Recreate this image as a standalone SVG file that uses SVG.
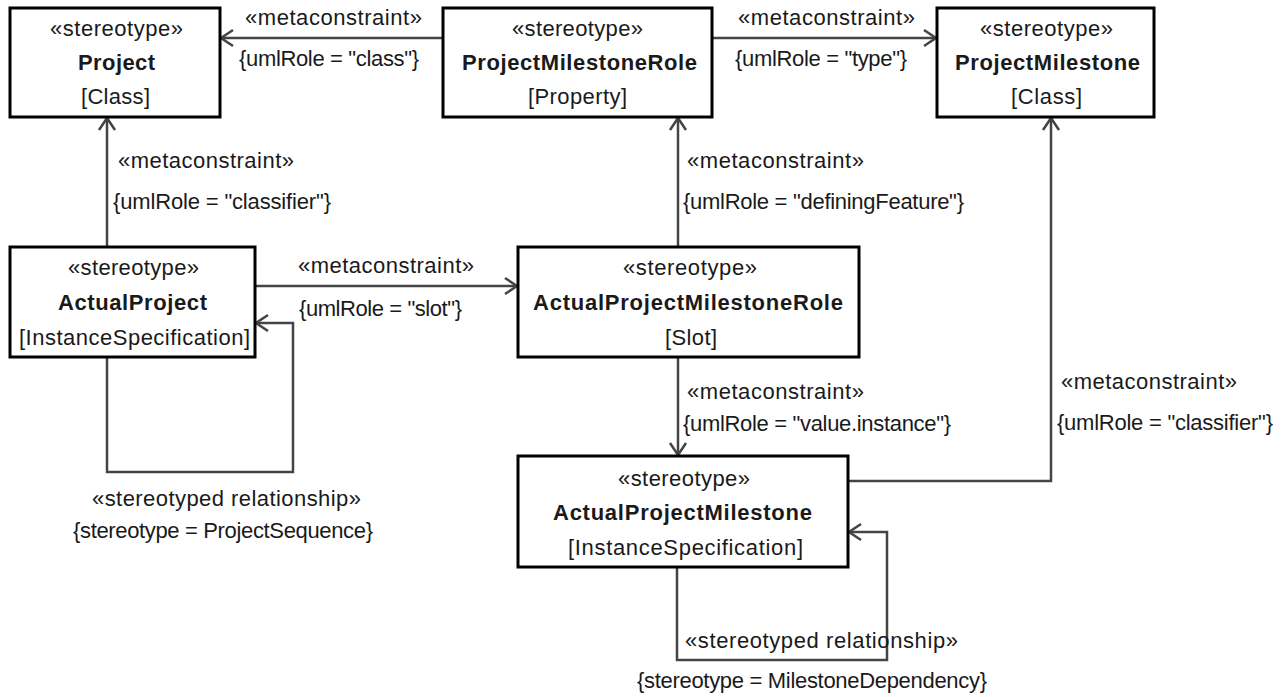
<svg xmlns="http://www.w3.org/2000/svg" width="1286" height="697" viewBox="0 0 1286 697">
<style>
text{font-family:"Liberation Sans",Arial,sans-serif;font-size:22px;fill:#1a1a1a}
.c{text-anchor:middle}
.b{font-weight:bold}
.box{fill:#fff;stroke:#000;stroke-width:3}
.con{fill:none;stroke:#444;stroke-width:2.5}
</style>
<defs>
<marker id="arr" markerUnits="userSpaceOnUse" markerWidth="20" markerHeight="20" refX="14" refY="10" orient="auto">
<path d="M2,2 L14,10 L2,18" fill="none" stroke="#444" stroke-width="2.5"/>
</marker>
</defs>
<g id="connectors">
<path class="con" d="M443,38 L221,38" marker-end="url(#arr)"/>
<path class="con" d="M712,38 L936,38" marker-end="url(#arr)"/>
<path class="con" d="M107,247 L107,118" marker-end="url(#arr)"/>
<path class="con" d="M678,247 L678,118" marker-end="url(#arr)"/>
<path class="con" d="M255,286 L517,286" marker-end="url(#arr)"/>
<path class="con" d="M107,357 L107,472 L293,472 L293,323 L256,323" marker-end="url(#arr)"/>
<path class="con" d="M678,357 L678,455" marker-end="url(#arr)"/>
<path class="con" d="M848,481 L1051,481 L1051,118" marker-end="url(#arr)"/>
<path class="con" d="M677,567 L677,660 L887,660 L887,532 L849,532" marker-end="url(#arr)"/>
<text x="245" y="25" textLength="177" lengthAdjust="spacing">«metaconstraint»</text>
<text x="239" y="66" textLength="180" lengthAdjust="spacing">{umlRole = "class"}</text>
<text x="738" y="25" textLength="177" lengthAdjust="spacing">«metaconstraint»</text>
<text x="735" y="66" textLength="172" lengthAdjust="spacing">{umlRole = "type"}</text>
<text x="118" y="168" textLength="176" lengthAdjust="spacing">«metaconstraint»</text>
<text x="113" y="209" textLength="218" lengthAdjust="spacing">{umlRole = "classifier"}</text>
<text x="687" y="168" textLength="177" lengthAdjust="spacing">«metaconstraint»</text>
<text x="683" y="209" textLength="281" lengthAdjust="spacing">{umlRole = "definingFeature"}</text>
<text x="298" y="273" textLength="176" lengthAdjust="spacing">«metaconstraint»</text>
<text x="299" y="316" textLength="163" lengthAdjust="spacing">{umlRole = "slot"}</text>
<text x="687" y="399" textLength="177" lengthAdjust="spacing">«metaconstraint»</text>
<text x="683" y="431" textLength="268" lengthAdjust="spacing">{umlRole = "value.instance"}</text>
<text x="1061" y="389" textLength="176" lengthAdjust="spacing">«metaconstraint»</text>
<text x="1057" y="430" textLength="216" lengthAdjust="spacing">{umlRole = "classifier"}</text>
<text x="92" y="506" textLength="269" lengthAdjust="spacing">«stereotyped relationship»</text>
<text x="73" y="538" textLength="300" lengthAdjust="spacing">{stereotype = ProjectSequence}</text>
<text x="685" y="648" textLength="273" lengthAdjust="spacing">«stereotyped relationship»</text>
<text x="637" y="688" textLength="350" lengthAdjust="spacing">{stereotype = MilestoneDependency}</text>
</g>
<g id="Project">
<rect class="box" x="10" y="8" width="210" height="109"/>
<text class="c" x="116.5" y="36" textLength="133" lengthAdjust="spacing">«stereotype»</text>
<text class="c b" x="116.5" y="70" textLength="77" lengthAdjust="spacing">Project</text>
<text class="c" x="115.5" y="104" textLength="69" lengthAdjust="spacing">[Class]</text>
</g>
<g id="ProjectMilestoneRole">
<rect class="box" x="443" y="8" width="269" height="109"/>
<text class="c" x="577.5" y="36" textLength="131" lengthAdjust="spacing">«stereotype»</text>
<text class="c b" x="579.5" y="70" textLength="235" lengthAdjust="spacing">ProjectMilestoneRole</text>
<text class="c" x="577.5" y="104" textLength="99" lengthAdjust="spacing">[Property]</text>
</g>
<g id="ProjectMilestone">
<rect class="box" x="937" y="8" width="217" height="109"/>
<text class="c" x="1046.5" y="36" textLength="133" lengthAdjust="spacing">«stereotype»</text>
<text class="c b" x="1047.5" y="70" textLength="185" lengthAdjust="spacing">ProjectMilestone</text>
<text class="c" x="1046.5" y="104" textLength="71" lengthAdjust="spacing">[Class]</text>
</g>
<g id="ActualProject">
<rect class="box" x="10" y="247" width="245" height="110"/>
<text class="c" x="133.5" y="275" textLength="131" lengthAdjust="spacing">«stereotype»</text>
<text class="c b" x="132.5" y="310" textLength="149" lengthAdjust="spacing">ActualProject</text>
<text class="c" x="134.5" y="345" textLength="231" lengthAdjust="spacing">[InstanceSpecification]</text>
</g>
<g id="ActualProjectMilestoneRole">
<rect class="box" x="518" y="247" width="341" height="110"/>
<text class="c" x="690" y="275" textLength="134" lengthAdjust="spacing">«stereotype»</text>
<text class="c b" x="688" y="310" textLength="310" lengthAdjust="spacing">ActualProjectMilestoneRole</text>
<text class="c" x="691" y="345" textLength="52" lengthAdjust="spacing">[Slot]</text>
</g>
<g id="ActualProjectMilestone">
<rect class="box" x="518" y="456" width="330" height="111"/>
<text class="c" x="684" y="486" textLength="132" lengthAdjust="spacing">«stereotype»</text>
<text class="c b" x="682.5" y="520" textLength="259" lengthAdjust="spacing">ActualProjectMilestone</text>
<text class="c" x="685.5" y="555" textLength="235" lengthAdjust="spacing">[InstanceSpecification]</text>
</g>
</svg>
